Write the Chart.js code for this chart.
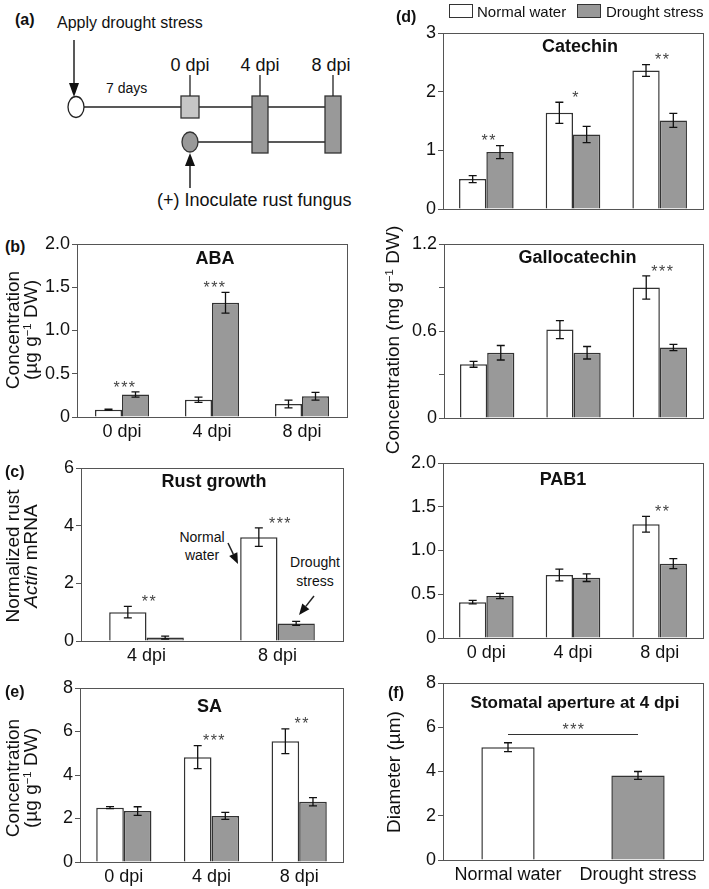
<!DOCTYPE html>
<html>
<head>
<meta charset="utf-8">
<script src="https://cdn.jsdelivr.net/npm/chart.js@4.4.1/dist/chart.umd.min.js"></script>
<style>
  body { margin: 0; background: #fff; }
  #fig { position: relative; width: 709px; height: 889px; overflow: hidden;
         font-family: 'Liberation Sans', Arial, sans-serif; color: #111; }
  canvas { position: absolute; }
  .lab { position: absolute; font-weight: bold; font-size: 16px; line-height: 16px; transform: translateY(-50%); }
  .ytitle { position: absolute; white-space: nowrap; font-size: 19px; line-height: 18px; text-align: center;
            transform: translate(-50%, -50%) rotate(-90deg); }
  sup { font-size: 0.6em; line-height: 0; vertical-align: 0.55em; }
  .lgbox { position: absolute; width: 22px; height: 12px; border: 1.5px solid #333; }
  .lgtxt { position: absolute; font-size: 15px; line-height: 15px; transform: translateY(-50%); }
  svg { position: absolute; left: 0; top: 0; }
</style>
</head>
<body>
<div id="fig">
  <svg id="over" width="709" height="889"></svg>

  <canvas id="cAba"></canvas>
  <canvas id="cRust"></canvas>
  <canvas id="cSa"></canvas>
  <canvas id="cCat"></canvas>
  <canvas id="cGal"></canvas>
  <canvas id="cPab"></canvas>
  <canvas id="cSto"></canvas>

  <div class="lab" style="left:15px;top:20px">(a)</div>
  <div class="lab" style="left:5px;top:247px">(b)</div>
  <div class="lab" style="left:5px;top:472px">(c)</div>
  <div class="lab" style="left:5px;top:692px">(e)</div>
  <div class="lab" style="left:396px;top:17px">(d)</div>
  <div class="lab" style="left:388px;top:693px">(f)</div>

  <div class="ytitle" style="left:22px;top:330px">Concentration<br>(µg g<sup>−1</sup> DW)</div>
  <div class="ytitle" style="left:22px;top:556px">Normalized rust<br><i>Actin</i> mRNA</div>
  <div class="ytitle" style="left:22px;top:778px">Concentration<br>(µg g<sup>−1</sup> DW)</div>
  <div class="ytitle" style="left:393px;top:340px">Concentration (mg g<sup>−1</sup> DW)</div>
  <div class="ytitle" style="left:394px;top:772px">Diameter (µm)</div>

  <div class="lgbox" style="left:449px;top:4px;background:#fff"></div>
  <div class="lgtxt" style="left:477px;top:11px">Normal water</div>
  <div class="lgbox" style="left:577px;top:4px;background:#999"></div>
  <div class="lgtxt" style="left:606px;top:11px">Drought stress</div>
</div>

<script>
// categories
const dpiLabels = ['0 dpi', '4 dpi', '8 dpi'];
const rustLabels = ['4 dpi', '8 dpi'];
const stomaLabels = ['Normal water', 'Drought stress'];

// ABA
const abaNormal = [0.085, 0.20, 0.15];
const abaNormalErr = [0.005, 0.03, 0.045];
const abaDrought = [0.26, 1.32, 0.24];
const abaDroughtErr = [0.03, 0.12, 0.045];
const abaStars = ['***', '***', ''];
const abaTicks = [0, 0.5, 1.0, 1.5, 2.0];
const abaTickLabels = ['0', '0.5', '1.0', '1.5', '2.0'];

// rust growth
const rustNormal = [1.0, 3.6];
const rustNormalErr = [0.2, 0.32];
const rustDrought = [0.12, 0.61];
const rustDroughtErr = [0.05, 0.07];
const rustStars = ['**', '***'];
const rustTicks = [0, 2, 4, 6];
const rustTickLabels = ['0', '2', '4', '6'];

// SA
const saNormal = [2.5, 4.82, 5.55];
const saNormalErr = [0.05, 0.53, 0.57];
const saDrought = [2.34, 2.12, 2.77];
const saDroughtErr = [0.2, 0.16, 0.19];
const saStars = ['', '***', '**'];
const saTicks = [0, 2, 4, 6, 8];
const saTickLabels = ['0', '2', '4', '6', '8'];

// catechin
const catNormal = [0.51, 1.64, 2.36];
const catNormalErr = [0.06, 0.18, 0.10];
const catDrought = [0.97, 1.27, 1.51];
const catDroughtErr = [0.11, 0.14, 0.12];
const catStars = ['**', '*', '**'];
const catTicks = [0, 1, 2, 3];
const catTickLabels = ['0', '1', '2', '3'];

// gallocatechin
const galNormal = [0.37, 0.61, 0.90];
const galNormalErr = [0.02, 0.062, 0.08];
const galDrought = [0.45, 0.45, 0.486];
const galDroughtErr = [0.05, 0.043, 0.022];
const galStars = ['', '', '***'];
const galTicks = [0, 0.3, 0.6, 0.9, 1.2];
const galTickLabels = ['0', '', '0.6', '', '1.2'];

// PAB1
const pabNormal = [0.41, 0.72, 1.30];
const pabNormalErr = [0.02, 0.067, 0.09];
const pabDrought = [0.48, 0.69, 0.85];
const pabDroughtErr = [0.03, 0.044, 0.057];
const pabStars = ['', '', '**'];
const pabTicks = [0, 0.5, 1.0, 1.5, 2.0];
const pabTickLabels = ['0', '0.5', '1.0', '1.5', '2.0'];

// stomatal aperture
const stomaValues = [5.1, 3.82];
const stomaErr = [0.2, 0.18];
const stomaSigLevel = 5.7;
const stomaStars = '***';
const stomaTicks = [0, 2, 4, 6, 8];
const stomaTickLabels = ['0', '2', '4', '6', '8'];

const WHITE = '#ffffff', GREY = '#999999', EDGE = '#333333';
Chart.defaults.font.family = "'Liberation Sans', Arial, sans-serif";
Chart.defaults.color = '#111';

// plugins
const boxPlugin = {
  id: 'box',
  afterDraw(chart) {
    const a = chart.chartArea, ctx = chart.ctx;
    ctx.save();
    ctx.strokeStyle = '#555'; ctx.lineWidth = 1;
    ctx.strokeRect(Math.round(a.left) + 0.5, Math.round(a.top) + 0.5,
                   Math.round(a.right - a.left), Math.round(a.bottom - a.top));
    ctx.restore();
  }
};

const errPlugin = {
  id: 'errbars',
  afterDatasetsDraw(chart) {
    const ctx = chart.ctx, y = chart.scales.y;
    ctx.save();
    ctx.strokeStyle = '#111'; ctx.lineWidth = 1.3;
    chart.data.datasets.forEach((ds, i) => {
      if (!ds.errors) return;
      chart.getDatasetMeta(i).data.forEach((bar, j) => {
        const v = ds.data[j], e = ds.errors[j];
        const t = y.getPixelForValue(v + e), b = y.getPixelForValue(v - e);
        ctx.beginPath();
        ctx.moveTo(bar.x, t); ctx.lineTo(bar.x, b);
        ctx.moveTo(bar.x - 4, t); ctx.lineTo(bar.x + 4, t);
        ctx.moveTo(bar.x - 4, b); ctx.lineTo(bar.x + 4, b);
        ctx.stroke();
      });
    });
    ctx.restore();
  }
};

function drawStars(ctx, s, x, yc) {
  ctx.save();
  ctx.fillStyle = '#444';
  ctx.font = "16px 'Liberation Sans', Arial, sans-serif";
  ctx.letterSpacing = '1.5px';
  ctx.textAlign = 'center';
  ctx.textBaseline = 'alphabetic';
  ctx.fillText(s, x + 1, yc + 0.6 * 16);
  ctx.restore();
}

function starPlugin(stars) {
  return {
    id: 'stars',
    afterDatasetsDraw(chart) {
      const y = chart.scales.y;
      stars.forEach((s, j) => {
        if (!s) return;
        let xs = 0, top = Infinity, n = 0;
        chart.data.datasets.forEach((ds, i) => {
          const bar = chart.getDatasetMeta(i).data[j];
          xs += bar.x; n++;
          top = Math.min(top, y.getPixelForValue(ds.data[j] + (ds.errors ? ds.errors[j] : 0)));
        });
        drawStars(chart.ctx, s, xs / n + 2, top - 9);
      });
    }
  };
}

function titlePlugin(text, dx, dy, size) {
  return {
    id: 'ptitle',
    afterDraw(chart) {
      const a = chart.chartArea, ctx = chart.ctx;
      ctx.save();
      ctx.font = "bold " + size + "px 'Liberation Sans', Arial, sans-serif";
      ctx.fillStyle = '#111';
      ctx.textAlign = 'center'; ctx.textBaseline = 'middle';
      ctx.fillText(text, (a.left + a.right) / 2 + dx, a.top + dy);
      ctx.restore();
    }
  };
}

function sigPlugin(level, stars) {
  return {
    id: 'sig',
    afterDatasetsDraw(chart) {
      const bars = chart.getDatasetMeta(0).data, ctx = chart.ctx;
      const yy = Math.round(chart.scales.y.getPixelForValue(level)) + 0.5;
      ctx.save();
      ctx.strokeStyle = '#333'; ctx.lineWidth = 1;
      ctx.beginPath(); ctx.moveTo(bars[0].x, yy); ctx.lineTo(bars[1].x, yy); ctx.stroke();
      ctx.restore();
      drawStars(ctx, stars, (bars[0].x + bars[1].x) / 2, yy - 9);
    }
  };
}

// layout helpers
const PADL = 50, PADT = 16, PADR = 6, PADB = 36;

function place(id, left, top, right, bottom) {
  const c = document.getElementById(id);
  c.width = right - left + PADL + PADR;
  c.height = bottom - top + PADT + PADB;
  c.style.left = (left - PADL) + 'px';
  c.style.top = (top - PADT) + 'px';
  return c;
}

function pair(normal, nErr, drought, dErr, catPct) {
  const common = { borderColor: EDGE, borderWidth: 1.5, categoryPercentage: catPct, barPercentage: 1 };
  return [
    Object.assign({ label: 'Normal water', data: normal, errors: nErr, backgroundColor: WHITE }, common),
    Object.assign({ label: 'Drought stress', data: drought, errors: dErr, backgroundColor: GREY }, common)
  ];
}

function barChart(id, rect, labels, datasets, ticks, tickLabels, extra, showX) {
  const c = place(id, rect[0], rect[1], rect[2], rect[3]);
  return new Chart(c, {
    type: 'bar',
    data: { labels: labels, datasets: datasets },
    options: {
      responsive: false,
      animation: false,
      devicePixelRatio: 1,
      layout: { padding: { top: PADT, right: PADR, left: 0, bottom: 0 } },
      plugins: { legend: { display: false }, tooltip: { enabled: false } },
      scales: {
        x: {
          grid: { display: false, drawTicks: false },
          border: { display: false },
          ticks: { display: showX !== false, font: { size: 18 }, padding: 4, color: '#111', maxRotation: 0 },
          afterFit: s => { s.height = PADB; }
        },
        y: {
          min: ticks[0],
          max: ticks[ticks.length - 1],
          grid: { drawOnChartArea: false, drawTicks: true, tickLength: 5, color: '#555' },
          border: { display: false },
          afterBuildTicks: s => { s.ticks = ticks.map(v => ({ value: v })); },
          ticks: { font: { size: 18 }, padding: 2, color: '#111', callback: (v, i) => tickLabels[i] },
          afterFit: s => { s.width = PADL; }
        }
      }
    },
    plugins: [boxPlugin, errPlugin].concat(extra)
  });
}

// left column
barChart('cAba', [77, 244, 347, 417], dpiLabels,
  pair(abaNormal, abaNormalErr, abaDrought, abaDroughtErr, 0.6),
  abaTicks, abaTickLabels, [starPlugin(abaStars), titlePlugin('ABA', 3, 15, 18)]);

barChart('cRust', [81, 468, 343, 641], rustLabels,
  pair(rustNormal, rustNormalErr, rustDrought, rustDroughtErr, 0.57),
  rustTicks, rustTickLabels, [starPlugin(rustStars), titlePlugin('Rust growth', 2, 14, 18)]);

barChart('cSa', [80, 688, 343, 862], dpiLabels,
  pair(saNormal, saNormalErr, saDrought, saDroughtErr, 0.63),
  saTicks, saTickLabels, [starPlugin(saStars), titlePlugin('SA', -2, 19, 18)]);

// right column
barChart('cCat', [443, 33, 703, 209], dpiLabels,
  pair(catNormal, catNormalErr, catDrought, catDroughtErr, 0.63),
  catTicks, catTickLabels, [starPlugin(catStars), titlePlugin('Catechin', 7, 14, 18)], false);

barChart('cGal', [444, 244, 703, 418], dpiLabels,
  pair(galNormal, galNormalErr, galDrought, galDroughtErr, 0.63),
  galTicks, galTickLabels, [starPlugin(galStars), titlePlugin('Gallocatechin', 4, 14, 18)], false);

barChart('cPab', [443, 463, 703, 638], dpiLabels,
  pair(pabNormal, pabNormalErr, pabDrought, pabDroughtErr, 0.63),
  pabTicks, pabTickLabels, [starPlugin(pabStars), titlePlugin('PAB1', -10, 17, 18)]);

barChart('cSto', [443, 683, 703, 860], stomaLabels,
  [{ data: stomaValues, errors: stomaErr, backgroundColor: [WHITE, GREY], borderColor: EDGE,
     borderWidth: 1.5, categoryPercentage: 1, barPercentage: 0.41 }],
  stomaTicks, stomaTickLabels, [sigPlugin(stomaSigLevel, stomaStars), titlePlugin('Stomatal aperture at 4 dpi', 2, 20, 17)]);

// schematic (a) and the arrows of (c)
const svg = document.getElementById('over');
const NS = 'http://www.w3.org/2000/svg';
function el(tag, attrs, text) {
  const e = document.createElementNS(NS, tag);
  for (const k in attrs) e.setAttribute(k, attrs[k]);
  if (text) e.textContent = text;
  svg.appendChild(e);
  return e;
}
function txt(x, y, s, size, anchor) {
  return el('text', { x: x, y: y, 'font-size': size, 'text-anchor': anchor || 'start',
    'dominant-baseline': 'central', fill: '#111', 'font-family': "'Liberation Sans', Arial, sans-serif" }, s);
}
function line(x1, y1, x2, y2, w) {
  el('line', { x1: x1, y1: y1, x2: x2, y2: y2, stroke: '#222', 'stroke-width': w || 1.3 });
}
function arrow(x1, y1, x2, y2, len, half) {
  const dx = x2 - x1, dy = y2 - y1, d = Math.hypot(dx, dy), ux = dx / d, uy = dy / d;
  const bx = x2 - ux * len, by = y2 - uy * len;
  line(x1, y1, bx, by, 1.5);
  el('polygon', { points: [x2, y2, bx - uy * half, by + ux * half, bx + uy * half, by - ux * half].join(' '), fill: '#111' });
}

txt(57, 22, 'Apply drought stress', 16);
arrow(74, 40, 74, 97, 14, 5);
line(84, 107, 181, 107);
el('ellipse', { cx: 76, cy: 107, rx: 8, ry: 10.5, fill: '#fff', stroke: '#222', 'stroke-width': 1.3 });
txt(106, 88, '7 days', 14);
line(199, 107, 252, 107); line(268, 107, 325, 107);
line(198, 142, 252, 142); line(268, 142, 325, 142);
el('rect', { x: 181, y: 96, width: 18, height: 22, fill: '#c6c6c6', stroke: '#333', 'stroke-width': 1.3 });
el('rect', { x: 252, y: 96, width: 16, height: 57, fill: '#999', stroke: '#333', 'stroke-width': 1.3 });
el('rect', { x: 325, y: 96, width: 16, height: 57, fill: '#999', stroke: '#333', 'stroke-width': 1.3 });
line(190, 75, 190, 96); line(260, 75, 260, 96); line(333, 75, 333, 96);
txt(190, 65, '0 dpi', 18, 'middle');
txt(260, 65, '4 dpi', 18, 'middle');
txt(331, 65, '8 dpi', 18, 'middle');
el('ellipse', { cx: 190, cy: 142, rx: 8, ry: 10, fill: '#999', stroke: '#333', 'stroke-width': 1.3 });
arrow(190, 188, 190, 153, 13, 5);
txt(157, 200, '(+) Inoculate rust fungus', 18);

txt(202, 537, 'Normal', 14, 'middle');
txt(202, 555, 'water', 14, 'middle');
arrow(228, 543, 238, 564, 11, 4.5);
txt(315, 562, 'Drought', 14, 'middle');
txt(315, 581, 'stress', 14, 'middle');
arrow(314, 596, 299, 615, 11, 4.5);
</script>
</body>
</html>
